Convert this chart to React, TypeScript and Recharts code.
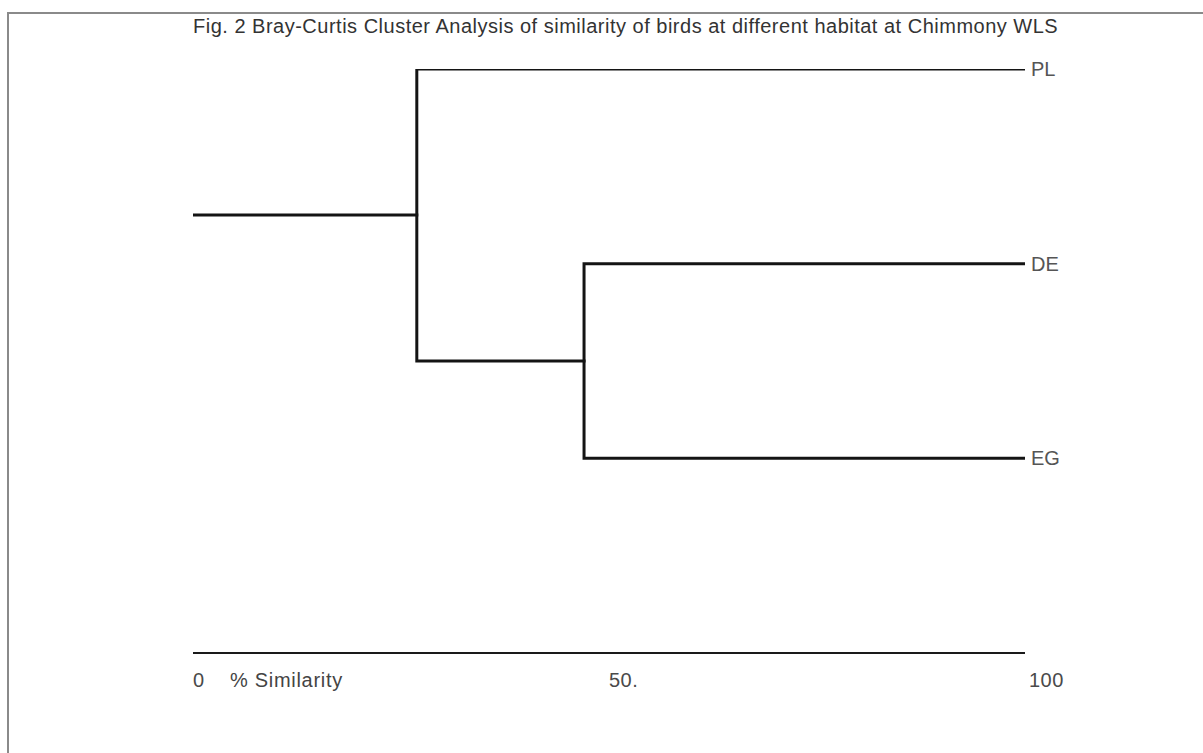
import React from 'react';
import { LineChart, Line, XAxis, YAxis } from 'recharts';

// ---- data ----
const title = 'Fig. 2 Bray-Curtis Cluster Analysis of similarity of birds at different habitat at Chimmony WLS';
const leaves = ['PL', 'DE', 'EG'];
const leafPos = [0, 1, 2];
const leafSimilarity = 100;
// merge levels (% similarity)
const mergeDEEG = 47.0;
const mergePLRest = 26.9;
const rootSimilarity = 0;
const xTicks = [0, 50, 100];
const xTickLabels = ['0', '50.', '100'];
const axisName = '% Similarity';

// derived node positions
const posDEEG = (leafPos[1] + leafPos[2]) / 2;
const posRoot = (leafPos[0] + posDEEG) / 2;

const segDEEG = [
  { x: leafSimilarity, y: leafPos[1] },
  { x: mergeDEEG, y: leafPos[1] },
  { x: mergeDEEG, y: leafPos[2] },
  { x: leafSimilarity, y: leafPos[2] },
];
const segPL = [
  { x: leafSimilarity, y: leafPos[0] },
  { x: mergePLRest, y: leafPos[0] },
  { x: mergePLRest, y: posDEEG },
  { x: mergeDEEG, y: posDEEG },
];
const segRoot = [
  { x: rootSimilarity, y: posRoot },
  { x: mergePLRest, y: posRoot },
];

const FONT = '"Liberation Sans", Arial, sans-serif';

const XTick = (props: any) => {
  const { x, y, payload } = props;
  const i = xTicks.indexOf(payload.value);
  return (
    <text x={x + (i === 2 ? 4 : 0)} y={y + 34} textAnchor="start" fontSize={20} fill="#4a4a4a" fontFamily={FONT} letterSpacing={0.5}>
      {xTickLabels[i]}
    </text>
  );
};

const YTick = (props: any) => {
  const { x, y, payload } = props;
  const i = leafPos.indexOf(payload.value);
  return (
    <text x={x + 6} y={y + 7} textAnchor="start" fontSize={20} fill="#555" fontFamily={FONT}>
      {leaves[i]}
    </text>
  );
};

const AxisName = (props: any) => {
  const vb = props.viewBox || { x: 193, y: 653 };
  return (
    <text x={vb.x + 37} y={vb.y + 34} textAnchor="start" fontSize={20} fill="#444" fontFamily={FONT} letterSpacing={0.7}>
      {axisName}
    </text>
  );
};

export default function App() {
  return (
    <div style={{ position: 'absolute', left: 0, top: 0, width: 1203, height: 753, background: '#fff', overflow: 'hidden' }}>
      <div
        style={{
          position: 'absolute',
          left: 7,
          top: 12,
          right: -5,
          bottom: -5,
          borderTop: '2px solid #8a8a8a',
          borderLeft: '2px solid #8a8a8a',
        }}
      />
      <div
        style={{
          position: 'absolute',
          left: 193,
          top: 16,
          fontFamily: FONT,
          fontSize: 20,
          lineHeight: '20px',
          color: '#333',
          whiteSpace: 'nowrap',
          letterSpacing: '0.5px',
        }}
      >
        {title}
      </div>
      <div style={{ position: 'absolute', left: 0, top: 0 }}>
        <LineChart width={1203} height={753} margin={{ top: 69, left: 193, right: 78, bottom: 0 }}>
          <XAxis
            type="number"
            dataKey="x"
            domain={[0, 100]}
            ticks={xTicks}
            height={100}
            tickLine={false}
            tickSize={0}
            tickMargin={0}
            axisLine={{ stroke: '#1a1a1a', strokeWidth: 2 }}
            tick={<XTick />}
            allowDataOverflow
            label={{ content: <AxisName /> }}
          />
          <YAxis
            type="number"
            dataKey="y"
            orientation="right"
            domain={[0, 3]}
            reversed
            ticks={leafPos}
            width={100}
            axisLine={false}
            tickLine={false}
            tickSize={0}
            tickMargin={0}
            tick={<YTick />}
            allowDataOverflow
          />
          <Line data={segRoot} dataKey="y" stroke="#141414" strokeWidth={3} dot={false} isAnimationActive={false} strokeLinejoin="miter" strokeLinecap="square" />
          <Line data={segPL} dataKey="y" stroke="#141414" strokeWidth={3} dot={false} isAnimationActive={false} strokeLinejoin="miter" strokeLinecap="square" />
          <Line data={segDEEG} dataKey="y" stroke="#141414" strokeWidth={3} dot={false} isAnimationActive={false} strokeLinejoin="miter" strokeLinecap="square" />
        </LineChart>
      </div>
    </div>
  );
}
